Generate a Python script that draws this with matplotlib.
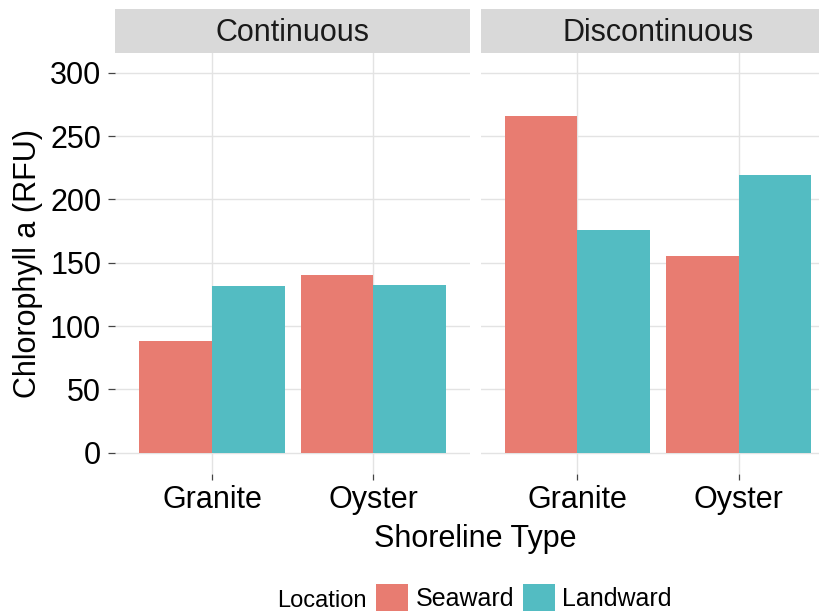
import numpy as np
import matplotlib
matplotlib.use('Agg')
import matplotlib.pyplot as plt
from matplotlib.patches import Patch

plt.rcParams['font.family'] = ['Liberation Sans', 'DejaVu Sans']

# chlorophyll a by shoreline type, location and shoreline continuity
shorelines = ['Granite', 'Oyster']
panels = ['Continuous', 'Discontinuous']
seaward = {'Continuous': [88.5, 140.0], 'Discontinuous': [265.5, 155.0]}
landward = {'Continuous': [131.5, 132.5], 'Discontinuous': [176.0, 219.0]}
locations = ['Seaward', 'Landward']
colors = ['#E87C71', '#53BCC2']
yticks = [0, 50, 100, 150, 200, 250, 300]

W, H = 820, 614
fig = plt.figure(figsize=(W / 100, H / 100), dpi=100)

def px_box(x0, y0, x1, y1):
    # pixel box (top-left origin) -> figure fraction rect
    return [x0 / W, 1 - y1 / H, (x1 - x0) / W, (y1 - y0) / H]

panel_left = [115.2, 480.7]
panel_w = 354.8
top, bottom, strip_top = 52.7, 474, 9

x = np.arange(1, len(shorelines) + 1)
bw = 0.45
for i, name in enumerate(panels):
    x0 = panel_left[i]
    ax = fig.add_axes(px_box(x0, top, x0 + panel_w, bottom))
    ax.set_axisbelow(True)
    ax.bar(x - bw / 2, seaward[name], width=bw, color=colors[0], linewidth=0)
    ax.bar(x + bw / 2, landward[name], width=bw, color=colors[1], linewidth=0)
    ax.set_xlim(0.4, 2.6)
    ax.set_ylim(-16.8, 315.8)
    ax.set_xticks(x)
    ax.set_xticklabels(shorelines, fontsize=22, color='black')
    ax.set_yticks(yticks)
    ax.grid(True, color='#E3E3E3', linewidth=1.0)
    for s in ax.spines.values():
        s.set_visible(False)
    ax.tick_params(axis='x', length=4, width=0.9, color='#444444', pad=4)
    if i == 0:
        ax.set_yticklabels([str(v) for v in yticks], fontsize=22, color='black')
        ax.tick_params(axis='y', length=5, width=0.9, color='#444444', pad=5)
        ax.set_ylabel('Chlorophyll a (RFU)', fontsize=22, labelpad=5)
    else:
        ax.tick_params(axis='y', length=0, labelleft=False)

    # facet strip
    sax = fig.add_axes(px_box(x0, strip_top, x0 + panel_w, top))
    sax.set_facecolor('#D9D9D9')
    sax.set_xticks([])
    sax.set_yticks([])
    for s in sax.spines.values():
        s.set_visible(False)
    sax.text(0.5, 0.45, name, ha='center', va='center', fontsize=22,
             color='#1A1A1A', transform=sax.transAxes)

fig.text((115.2 + 835.5) / 2 / W, 1 - 539 / H, 'Shoreline Type',
         ha='center', va='center', fontsize=22)

# legend at the bottom
handles = [Patch(facecolor=c, edgecolor='none') for c in colors]
fig.text(277 / W, 1 - 601 / H, 'Location', ha='left', va='center', fontsize=17)
fig.legend(handles, locations, loc='upper left',
           bbox_to_anchor=(376 / W, 1 - 584 / H), ncol=2, frameon=False,
           fontsize=18, handlelength=1.28, handleheight=1.28,
           handletextpad=0.32, columnspacing=0.32, borderpad=0,
           borderaxespad=0)

fig.savefig('out.png', dpi=100)
